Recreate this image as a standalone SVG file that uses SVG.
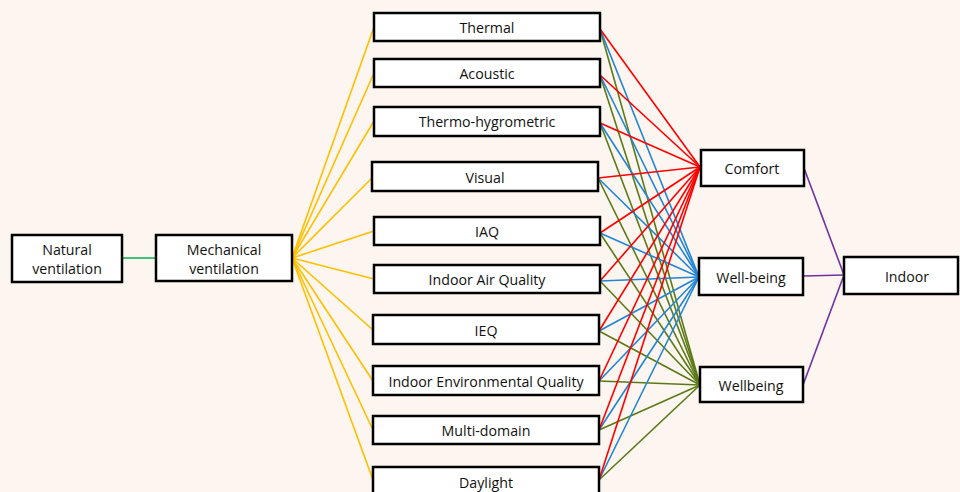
<svg xmlns="http://www.w3.org/2000/svg" width="960" height="492" viewBox="0 0 960 492">
<style>
.box{fill:#ffffff;stroke:#000000;stroke-width:2.5}
.t{font-family:"Open Sans","Liberation Sans",sans-serif;font-size:14.2px;fill:#111111;text-anchor:middle;dominant-baseline:central}
.y{stroke:#ffc000;stroke-width:1.6;fill:none}
.r{stroke:#ff0000;stroke-width:1.6;fill:none}
.b{stroke:#1f86d6;stroke-width:1.6;fill:none}
.g{stroke:#5b7a17;stroke-width:1.6;fill:none}
.p{stroke:#7030a0;stroke-width:1.6;fill:none}
.n{stroke:#00b050;stroke-width:1.6;fill:none}
</style>
<rect x="0" y="0" width="960" height="492" fill="#fdf5ef"/>
<g id="connectors">
<line class="n" x1="122" y1="258" x2="156" y2="258"/>
<g>
<line class="y" x1="292" y1="258" x2="374" y2="27"/>
<line class="y" x1="292" y1="258" x2="374" y2="73"/>
<line class="y" x1="292" y1="258" x2="374" y2="121"/>
<line class="y" x1="292" y1="258" x2="373" y2="177"/>
<line class="y" x1="292" y1="258" x2="374" y2="231"/>
<line class="y" x1="292" y1="258" x2="374" y2="279"/>
<line class="y" x1="292" y1="258" x2="373" y2="330"/>
<line class="y" x1="292" y1="258" x2="373" y2="381"/>
<line class="y" x1="292" y1="258" x2="373" y2="430"/>
<line class="y" x1="292" y1="258" x2="373" y2="480"/>
</g>
<g>
<line class="g" x1="600" y1="29" x2="700" y2="385"/>
<line class="g" x1="600" y1="75" x2="700" y2="385"/>
<line class="g" x1="600" y1="123" x2="700" y2="385"/>
<line class="g" x1="598" y1="178" x2="700" y2="385"/>
<line class="g" x1="600" y1="233" x2="700" y2="385"/>
<line class="g" x1="600" y1="281" x2="700" y2="385"/>
<line class="g" x1="599" y1="331" x2="700" y2="385"/>
<line class="g" x1="599" y1="381" x2="700" y2="385"/>
<line class="g" x1="599" y1="430" x2="700" y2="385"/>
<line class="g" x1="599" y1="480" x2="700" y2="385"/>
</g>
<g>
<line class="b" x1="600" y1="29" x2="699" y2="277"/>
<line class="b" x1="600" y1="75" x2="699" y2="277"/>
<line class="b" x1="600" y1="123" x2="699" y2="277"/>
<line class="b" x1="598" y1="178" x2="699" y2="277"/>
<line class="b" x1="600" y1="233" x2="699" y2="277"/>
<line class="b" x1="600" y1="281" x2="699" y2="277"/>
<line class="b" x1="599" y1="331" x2="699" y2="277"/>
<line class="b" x1="599" y1="381" x2="699" y2="277"/>
<line class="b" x1="599" y1="430" x2="699" y2="277"/>
<line class="b" x1="599" y1="480" x2="699" y2="277"/>
</g>
<g>
<line class="r" x1="600" y1="29" x2="700" y2="167"/>
<line class="r" x1="600" y1="75" x2="700" y2="167"/>
<line class="r" x1="600" y1="123" x2="700" y2="167"/>
<line class="r" x1="598" y1="178" x2="700" y2="167"/>
<line class="r" x1="600" y1="233" x2="700" y2="167"/>
<line class="r" x1="600" y1="281" x2="700" y2="167"/>
<line class="r" x1="599" y1="331" x2="700" y2="167"/>
<line class="r" x1="599" y1="381" x2="700" y2="167"/>
<line class="r" x1="599" y1="430" x2="700" y2="167"/>
<line class="r" x1="599" y1="480" x2="700" y2="167"/>
</g>
<g>
<line class="p" x1="804" y1="168" x2="844" y2="275"/>
<line class="p" x1="803" y1="276" x2="844" y2="275"/>
<line class="p" x1="803" y1="385" x2="844" y2="275"/>
</g>
</g>
<g id="natural-ventilation"><rect class="box" x="12" y="235" width="110" height="47"/><text class="t" x="67" y="249">Natural</text><text class="t" x="67" y="268">ventilation</text></g>
<g id="mechanical-ventilation"><rect class="box" x="156" y="235" width="136" height="46"/><text class="t" x="224" y="249">Mechanical</text><text class="t" x="224" y="268">ventilation</text></g>
<g id="thermal"><rect class="box" x="374" y="13" width="226" height="28"/><text class="t" x="487" y="27">Thermal</text></g>
<g id="acoustic"><rect class="box" x="374" y="59" width="226" height="28"/><text class="t" x="487" y="73">Acoustic</text></g>
<g id="thermo-hygrometric"><rect class="box" x="374" y="107" width="226" height="29"/><text class="t" x="487" y="121">Thermo-hygrometric</text></g>
<g id="visual"><rect class="box" x="372" y="162" width="226" height="29"/><text class="t" x="485" y="177">Visual</text></g>
<g id="iaq"><rect class="box" x="374" y="217" width="226" height="28"/><text class="t" x="487" y="231">IAQ</text></g>
<g id="indoor-air-quality"><rect class="box" x="374" y="265" width="226" height="28"/><text class="t" x="487" y="279">Indoor Air Quality</text></g>
<g id="ieq"><rect class="box" x="373" y="315" width="226" height="29"/><text class="t" x="486" y="330">IEQ</text></g>
<g id="indoor-environmental-quality"><rect class="box" x="373" y="366" width="226" height="29"/><text class="t" x="486" y="381">Indoor Environmental Quality</text></g>
<g id="multi-domain"><rect class="box" x="373" y="416" width="226" height="28"/><text class="t" x="486" y="430">Multi-domain</text></g>
<g id="daylight"><rect class="box" x="373" y="467" width="226" height="30"/><text class="t" x="486" y="482">Daylight</text></g>
<g id="comfort"><rect class="box" x="701" y="150" width="103" height="36"/><text class="t" x="752" y="168">Comfort</text></g>
<g id="well-being"><rect class="box" x="699" y="258" width="104" height="37"/><text class="t" x="751" y="277">Well-being</text></g>
<g id="wellbeing"><rect class="box" x="700" y="367" width="103" height="35"/><text class="t" x="751" y="385">Wellbeing</text></g>
<g id="indoor"><rect class="box" x="844" y="257" width="114" height="37"/><text class="t" x="907" y="276">Indoor</text></g>
</svg>
